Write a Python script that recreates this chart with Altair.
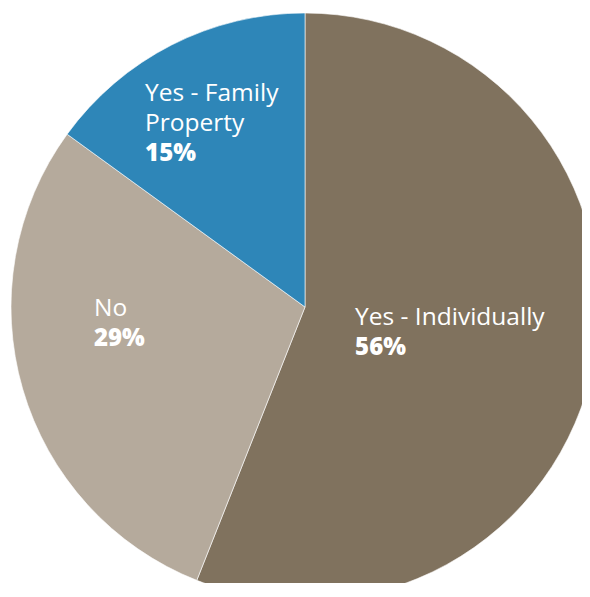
import altair as alt
import pandas as pd

categories = ["Yes - Individually", "No", "Yes - Family Property"]
values = [56, 29, 15]
order = [1, 2, 3]
colors = ["#80725E", "#B5AA9C", "#2E86B8"]
label_lines = [["Yes - Individually"], ["No"], ["Yes - Family", "Property"]]
pct_labels = ["56%", "29%", "15%"]

df = pd.DataFrame({"category": categories, "value": values, "order": order,
                   "pct": pct_labels,
                   "line1": [l[0] for l in label_lines],
                   "line2": [l[1] if len(l) > 1 else "" for l in label_lines]})

CX, CY, R = 297, 299, 294
FONT = "Open Sans"
FS = 24.5
FS_PCT = 24
LH = 30

base = alt.Chart(df)

pie = base.mark_arc(radius=R, stroke="white", strokeWidth=0.6).encode(
    theta=alt.Theta("value:Q", stack=True),
    color=alt.Color("category:N", scale=alt.Scale(domain=categories, range=colors), legend=None),
    order=alt.Order("order:Q"),
    x=alt.value(CX), y=alt.value(CY),
)

# per-label placement: (radius along mid-angle, dx, dy)
placement = {
    "Yes - Individually": (50, 1, 9),
    "No": (200, -19, -47),
    "Yes - Family Property": (220, -60, -10),
}

text_base = base.transform_window(
    cum="sum(value)", sort=[alt.SortField("order", order="ascending")]
).transform_calculate(mid="datum.cum - datum.value / 2")

layers = [pie]
for cat in categories:
    r, dx, dy = placement[cat]
    nlines = 2 if cat == "Yes - Family Property" else 1
    tb = text_base.transform_filter(alt.datum.category == cat)
    enc = dict(
        theta=alt.Theta("mid:Q", stack=None, scale=alt.Scale(domain=[0, sum(values)], range=[0, 6.283185307])),
        x=alt.value(CX), y=alt.value(CY),
    )
    layers.append(tb.mark_text(radius=r, dx=dx, dy=dy, align="left", baseline="alphabetic",
                               font=FONT, fontSize=FS, color="white").encode(text="line1:N", **enc))
    if nlines == 2:
        layers.append(tb.mark_text(radius=r, dx=dx, dy=dy + LH, align="left", baseline="alphabetic",
                                   font=FONT, fontSize=FS, color="white").encode(text="line2:N", **enc))
    layers.append(tb.mark_text(radius=r, dx=dx, dy=dy + LH * nlines, align="left", baseline="alphabetic",
                               font=FONT, fontSize=FS_PCT, fontWeight=800, color="white").encode(text="pct:N", **enc))

chart = alt.layer(*layers).resolve_scale(theta="independent").properties(
    width=574, height=575, autosize=alt.AutoSizeParams(type="none"), padding=0,
).configure_view(stroke=None)

chart.save("out.html", embed_options={"renderer": "svg", "actions": False})
